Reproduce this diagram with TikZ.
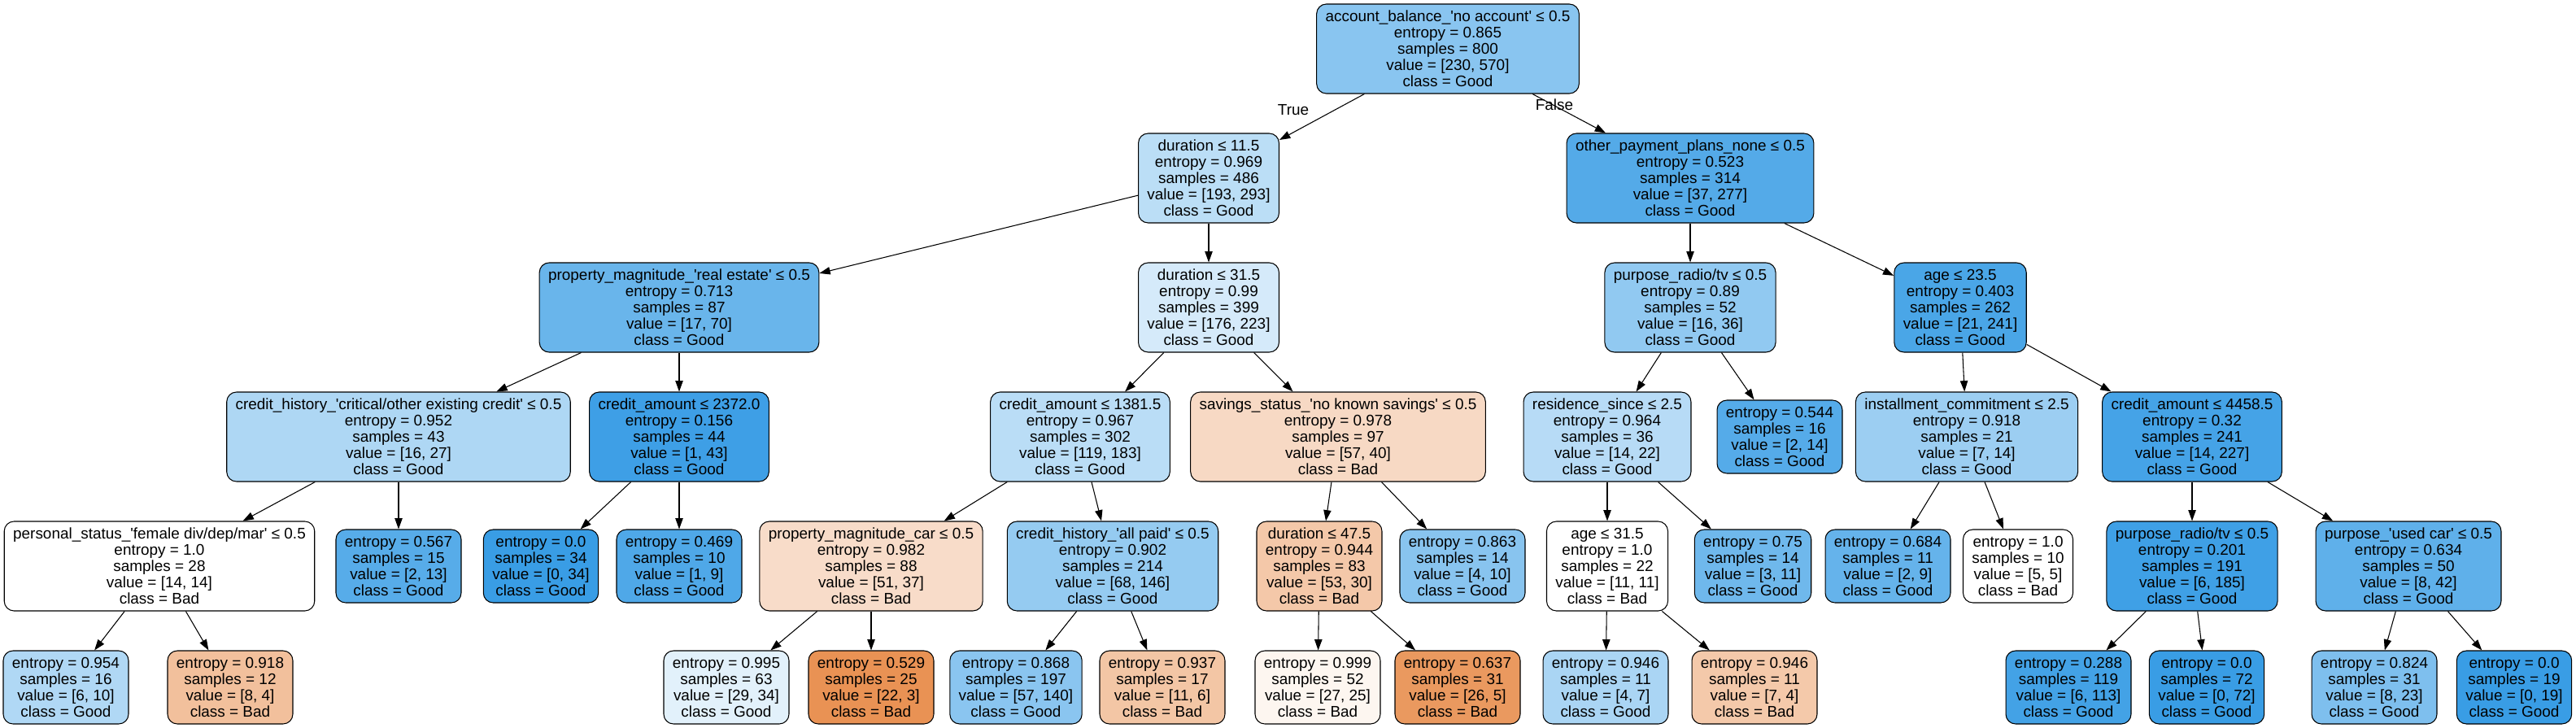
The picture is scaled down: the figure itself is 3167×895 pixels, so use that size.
\documentclass[tikz,border=0pt]{standalone}
\usepackage{fontspec}
\setmainfont{Liberation Sans}
\usetikzlibrary{arrows.meta}
\definecolor{gb}{RGB}{57,157,229}
\definecolor{go}{RGB}{229,129,57}
\newcommand\tnfont{\fontsize{14.2}{15}\selectfont}
\newcommand\sq{\textquotesingle}
\tikzset{
  tn/.style={draw=black, line width=0.8pt, rounded corners=9pt, align=center,
    inner xsep=8.2pt, inner ysep=2pt, font=\tnfont},
  five/.style={tn, minimum height=82.5pt},
  four/.style={tn, minimum height=67.5pt},
  edge/.style={-{Triangle[length=10pt,width=7pt]}, line width=0.8pt},
  lbl/.style={font=\tnfont, inner sep=0pt}
}
\begin{document}
\begin{tikzpicture}[x=0.75pt,y=-0.75pt]
\useasboundingbox (0,0) rectangle (3167,895);
% level 0
\node[five, fill=gb!59.6!white] (n0) at (1780,60) {account\_balance\_\sq no account\sq{} ≤ 0.5\\entropy = 0.865\\samples = 800\\value = [230, 570]\\class = Good};
% level 1
\node[five, fill=gb!34.1!white] (n1) at (1486,219) {duration ≤ 11.5\\entropy = 0.969\\samples = 486\\value = [193, 293]\\class = Good};
\node[five, fill=gb!86.6!white] (n2) at (2078,219) {other\_payment\_plans\_none ≤ 0.5\\entropy = 0.523\\samples = 314\\value = [37, 277]\\class = Good};
% level 2
\node[five, fill=gb!75.7!white] (n3) at (835,378) {property\_magnitude\_\sq real estate\sq{} ≤ 0.5\\entropy = 0.713\\samples = 87\\value = [17, 70]\\class = Good};
\node[five, fill=gb!21.1!white] (n4) at (1486,378) {duration ≤ 31.5\\entropy = 0.99\\samples = 399\\value = [176, 223]\\class = Good};
\node[five, fill=gb!55.6!white] (n5) at (2078,378) {purpose\_radio/tv ≤ 0.5\\entropy = 0.89\\samples = 52\\value = [16, 36]\\class = Good};
\node[five, fill=gb!91.3!white] (n6) at (2410,378) {age ≤ 23.5\\entropy = 0.403\\samples = 262\\value = [21, 241]\\class = Good};
% level 3
\node[five, fill=gb!40.7!white] (n7) at (490,537) {credit\_history\_\sq critical/other existing credit\sq{} ≤ 0.5\\entropy = 0.952\\samples = 43\\value = [16, 27]\\class = Good};
\node[five, fill=gb!97.7!white] (n8) at (835,537) {credit\_amount ≤ 2372.0\\entropy = 0.156\\samples = 44\\value = [1, 43]\\class = Good};
\node[five, fill=gb!35.0!white] (n9) at (1328,537) {credit\_amount ≤ 1381.5\\entropy = 0.967\\samples = 302\\value = [119, 183]\\class = Good};
\node[five, fill=go!29.8!white] (n10) at (1645,537) {savings\_status\_\sq no known savings\sq{} ≤ 0.5\\entropy = 0.978\\samples = 97\\value = [57, 40]\\class = Bad};
\node[five, fill=gb!36.4!white] (n11) at (1976,537) {residence\_since ≤ 2.5\\entropy = 0.964\\samples = 36\\value = [14, 22]\\class = Good};
\node[four, fill=gb!85.7!white] (n12) at (2188,537) {entropy = 0.544\\samples = 16\\value = [2, 14]\\class = Good};
\node[five, fill=gb!50!white] (n13) at (2418,537) {installment\_commitment ≤ 2.5\\entropy = 0.918\\samples = 21\\value = [7, 14]\\class = Good};
\node[five, fill=gb!93.8!white] (n14) at (2695,537) {credit\_amount ≤ 4458.5\\entropy = 0.32\\samples = 241\\value = [14, 227]\\class = Good};
% level 4
\node[five, fill=white] (n15) at (196,696) {personal\_status\_\sq female div/dep/mar\sq{} ≤ 0.5\\entropy = 1.0\\samples = 28\\value = [14, 14]\\class = Bad};
\node[four, fill=gb!84.6!white] (n16) at (490,696) {entropy = 0.567\\samples = 15\\value = [2, 13]\\class = Good};
\node[four, fill=gb!100!white] (n17) at (665,696) {entropy = 0.0\\samples = 34\\value = [0, 34]\\class = Good};
\node[four, fill=gb!88.9!white] (n18) at (835,696) {entropy = 0.469\\samples = 10\\value = [1, 9]\\class = Good};
\node[five, fill=go!27.5!white] (n19) at (1071,696) {property\_magnitude\_car ≤ 0.5\\entropy = 0.982\\samples = 88\\value = [51, 37]\\class = Bad};
\node[five, fill=gb!53.4!white] (n20) at (1368,696) {credit\_history\_\sq all paid\sq{} ≤ 0.5\\entropy = 0.902\\samples = 214\\value = [68, 146]\\class = Good};
\node[five, fill=go!43.4!white] (n21) at (1622,696) {duration ≤ 47.5\\entropy = 0.944\\samples = 83\\value = [53, 30]\\class = Bad};
\node[four, fill=gb!60!white] (n22) at (1798,696) {entropy = 0.863\\samples = 14\\value = [4, 10]\\class = Good};
\node[five, fill=white] (n23) at (1976,696) {age ≤ 31.5\\entropy = 1.0\\samples = 22\\value = [11, 11]\\class = Bad};
\node[four, fill=gb!72.7!white] (n24) at (2155,696) {entropy = 0.75\\samples = 14\\value = [3, 11]\\class = Good};
\node[four, fill=gb!77.8!white] (n25) at (2321,696) {entropy = 0.684\\samples = 11\\value = [2, 9]\\class = Good};
\node[four, fill=white] (n26) at (2481,696) {entropy = 1.0\\samples = 10\\value = [5, 5]\\class = Bad};
\node[five, fill=gb!96.8!white] (n27) at (2695,696) {purpose\_radio/tv ≤ 0.5\\entropy = 0.201\\samples = 191\\value = [6, 185]\\class = Good};
\node[five, fill=gb!81.0!white] (n28) at (2961,696) {purpose\_\sq used car\sq{} ≤ 0.5\\entropy = 0.634\\samples = 50\\value = [8, 42]\\class = Good};
% level 5
\node[four, fill=gb!40!white] (n29) at (81,845) {entropy = 0.954\\samples = 16\\value = [6, 10]\\class = Good};
\node[four, fill=go!50!white] (n30) at (283,845) {entropy = 0.918\\samples = 12\\value = [8, 4]\\class = Bad};
\node[four, fill=gb!14.7!white] (n31) at (893,845) {entropy = 0.995\\samples = 63\\value = [29, 34]\\class = Good};
\node[four, fill=go!86.4!white] (n32) at (1071,845) {entropy = 0.529\\samples = 25\\value = [22, 3]\\class = Bad};
\node[four, fill=gb!59.3!white] (n33) at (1249,845) {entropy = 0.868\\samples = 197\\value = [57, 140]\\class = Good};
\node[four, fill=go!45.5!white] (n34) at (1429,845) {entropy = 0.937\\samples = 17\\value = [11, 6]\\class = Bad};
\node[four, fill=go!7.4!white] (n35) at (1620,845) {entropy = 0.999\\samples = 52\\value = [27, 25]\\class = Bad};
\node[four, fill=go!80.8!white] (n36) at (1792,845) {entropy = 0.637\\samples = 31\\value = [26, 5]\\class = Bad};
\node[four, fill=gb!42.9!white] (n37) at (1974,845) {entropy = 0.946\\samples = 11\\value = [4, 7]\\class = Good};
\node[four, fill=go!42.9!white] (n38) at (2157,845) {entropy = 0.946\\samples = 11\\value = [7, 4]\\class = Bad};
\node[four, fill=gb!94.7!white] (n39) at (2543,845) {entropy = 0.288\\samples = 119\\value = [6, 113]\\class = Good};
\node[four, fill=gb!100!white] (n40) at (2713,845) {entropy = 0.0\\samples = 72\\value = [0, 72]\\class = Good};
\node[four, fill=gb!65.2!white] (n41) at (2919,845) {entropy = 0.824\\samples = 31\\value = [8, 23]\\class = Good};
\node[four, fill=gb!100!white] (n42) at (3091,845) {entropy = 0.0\\samples = 19\\value = [0, 19]\\class = Good};
% labels
\node[lbl] (ltrue) at (1590,135) {True};
\node[lbl] (lfalse) at (1911,129) {False};
% edges
\foreach \a/\b in {n0/n1,n0/n2,n1/n3,n1/n4,n2/n5,n2/n6,n3/n7,n3/n8,n4/n9,n4/n10,
  n5/n11,n5/n12,n6/n13,n6/n14,n7/n15,n7/n16,n8/n17,n8/n18,n9/n19,n9/n20,
  n10/n21,n10/n22,n11/n23,n11/n24,n13/n25,n13/n26,n14/n27,n14/n28,
  n15/n29,n15/n30,n19/n31,n19/n32,n20/n33,n20/n34,n21/n35,n21/n36,
  n23/n37,n23/n38,n27/n39,n27/n40,n28/n41,n28/n42}
  \draw[edge] (\a) -- (\b);
\end{tikzpicture}
\end{document}
